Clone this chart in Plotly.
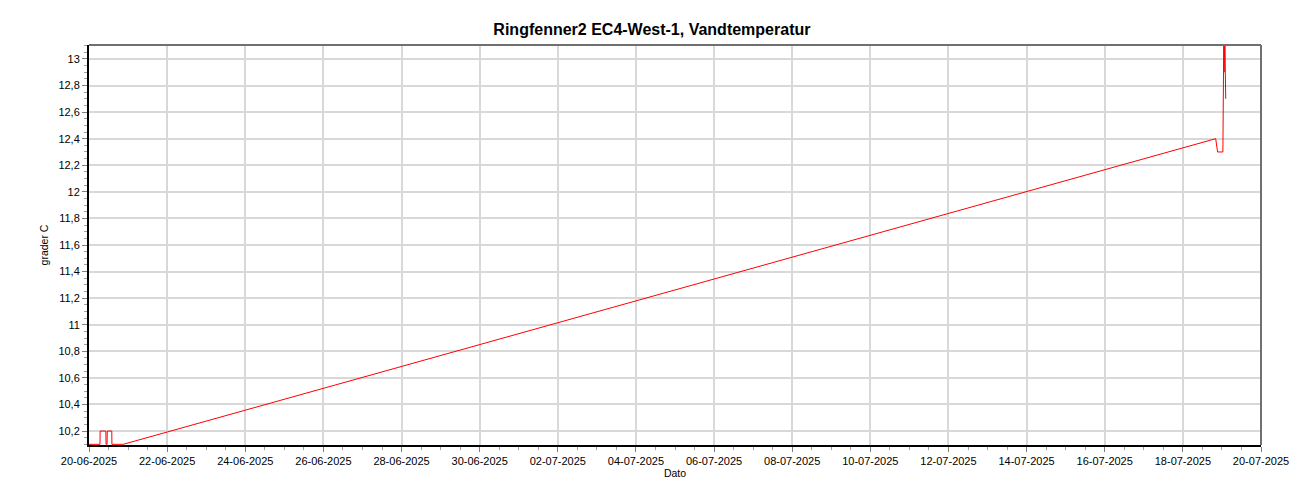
import plotly.graph_objects as go

times = [
    "2025-06-20 00:00", "2025-06-20 06:45", "2025-06-20 06:50", "2025-06-20 10:20",
    "2025-06-20 10:30", "2025-06-20 11:05", "2025-06-20 11:15", "2025-06-20 14:00",
    "2025-06-20 14:05", "2025-06-20 21:00",
    "2025-07-18 20:10", "2025-07-18 21:20", "2025-07-19 00:35", "2025-07-19 00:45",
    "2025-07-19 01:00", "2025-07-19 01:10", "2025-07-19 01:20", "2025-07-19 01:30",
    "2025-07-19 01:40", "2025-07-19 01:50", "2025-07-19 02:05", "2025-07-19 02:20",
]
values = [
    10.1, 10.1, 10.2, 10.2,
    10.1, 10.1, 10.2, 10.2,
    10.1, 10.1,
    12.4, 12.3, 12.3, 13.2,
    12.9, 13.2, 12.9, 13.2,
    12.9, 13.2, 12.9, 12.7,
]

title = "Ringfenner2 EC4-West-1, Vandtemperatur"
x_title = "Dato"
y_title = "grader C"

font = "Liberation Sans, Arial, sans-serif"

fig = go.Figure()
fig.add_trace(go.Scatter(x=times, y=values, mode="lines",
                         line=dict(color="#ff0000", width=1), showlegend=False))

fig.update_layout(
    width=1284, height=484,
    margin=dict(l=81, r=31, t=37, b=47, autoexpand=False),
    paper_bgcolor="white", plot_bgcolor="white",
    separators=", ",
    font=dict(family=font, size=11, color="black"),
    title=dict(text="<b>" + title + "</b>", x=0.5015, xanchor="center", y=1 - 21 / 484, yanchor="middle",
               font=dict(size=16, color="black", family=font)),
    xaxis=dict(
        range=["2025-06-20", "2025-07-20"],
        automargin=False,
        tickformat="%d-%m-%Y", dtick=2 * 86400000, tick0="2025-06-20",
        ticks="outside", ticklen=5, tickcolor="#808080",
        showgrid=True, gridcolor="#d8d8d8", gridwidth=1.5,
        showline=True, linecolor="black", linewidth=2,
        zeroline=False,
        minor=dict(dtick=43200000, ticks="outside", ticklen=3, tickcolor="#a0a0a0", showgrid=False),
        title=dict(text=x_title, font=dict(size=10.5), standoff=2),
        tickfont=dict(size=11),
    ),
    yaxis=dict(
        range=[10.095, 13.105],
        automargin=False,
        dtick=0.2, tick0=10.2,
        ticks="outside", ticklen=5, tickcolor="#808080",
        showgrid=True, gridcolor="#d8d8d8", gridwidth=1.5,
        showline=True, linecolor="black", linewidth=2,
        zeroline=False,
        minor=dict(dtick=0.05, ticks="outside", ticklen=3, tickcolor="#a0a0a0", showgrid=False),
        title=dict(text=y_title, font=dict(size=10.5), standoff=8),
        tickfont=dict(size=11),
    ),
    shapes=[
        dict(type="line", xref="paper", yref="paper", x0=0, x1=1, y0=1, y1=1,
             line=dict(color="#707070", width=2)),
        dict(type="line", xref="paper", yref="paper", x0=1, x1=1, y0=0, y1=1,
             line=dict(color="#707070", width=2)),
    ],
)

fig.write_html("out.html")
